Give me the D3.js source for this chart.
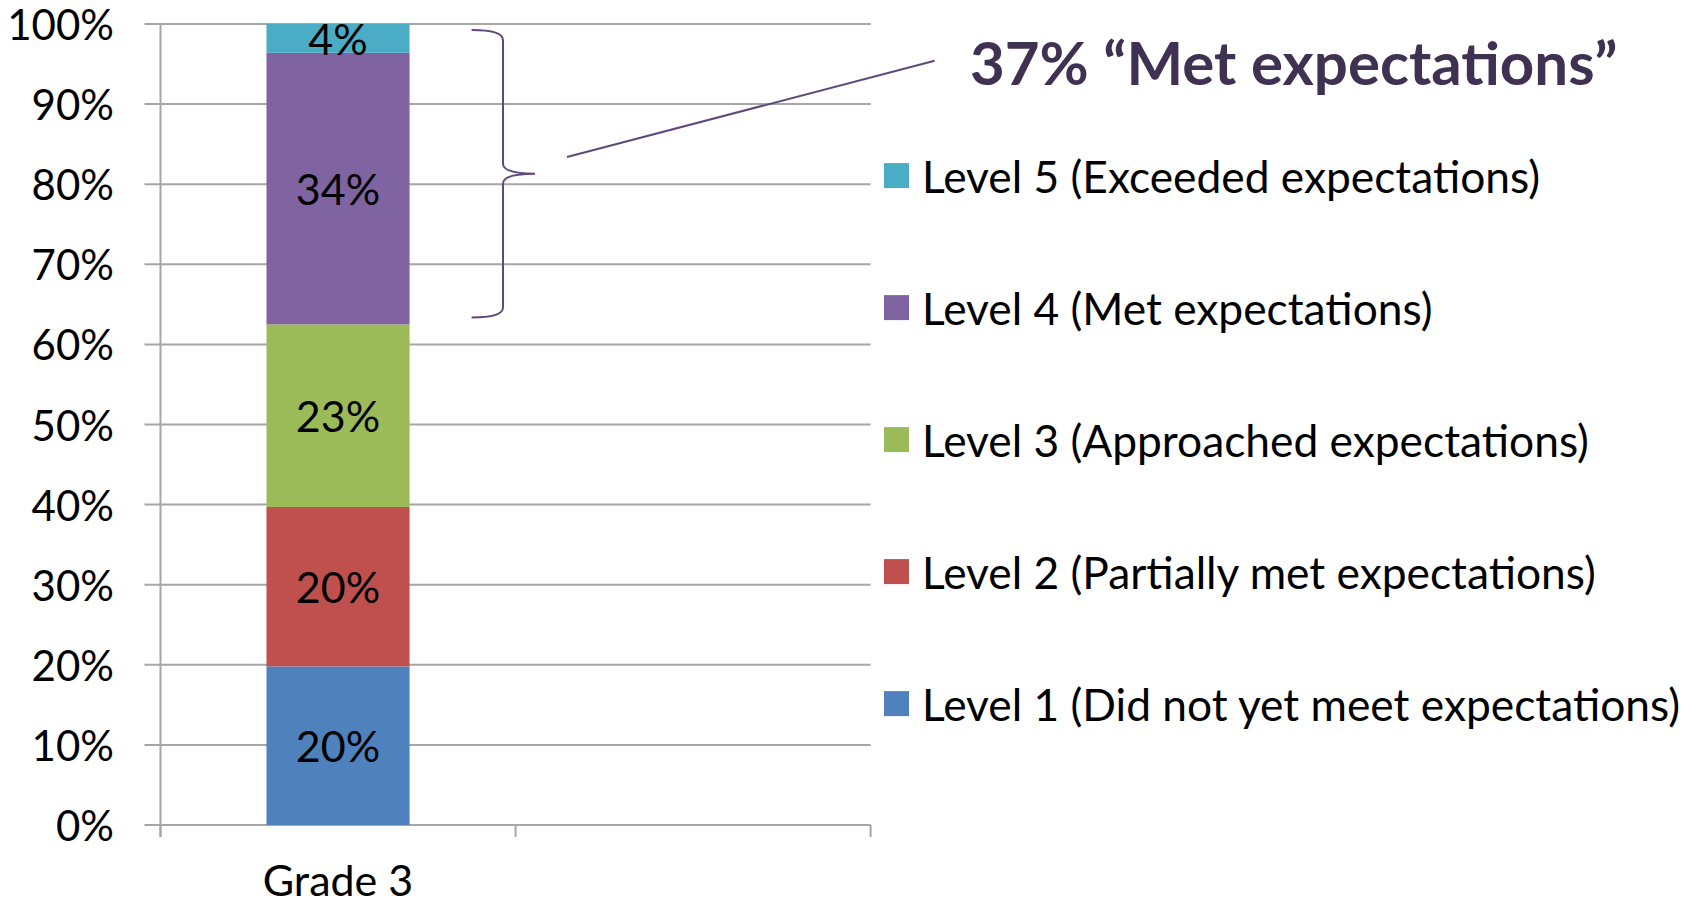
<!DOCTYPE html>
<html><head><meta charset="utf-8">
<script src="https://cdn.jsdelivr.net/npm/d3@7"></script>
<style>body{margin:0;background:#fff} svg{display:block}</style>
</head><body><svg id="c" width="1700" height="906"></svg>
<script>
// ---- data ----
const categories = ["Grade 3", ""];
const seriesNames = [
  "Level 1 (Did not yet meet expectations)",
  "Level 2 (Partially met expectations)",
  "Level 3 (Approached expectations)",
  "Level 4 (Met expectations)",
  "Level 5 (Exceeded expectations)"
];
const level1 = [19.8, 0];
const level2 = [19.9, 0];
const level3 = [22.8, 0];
const level4 = [33.9, 0];
const level5 = [3.6, 0];
const seriesColors = ["#4f81bd", "#c0504d", "#9bbb59", "#8064a2", "#4bacc6"];
const yTicks = [0, 10, 20, 30, 40, 50, 60, 70, 80, 90, 100];
const yTickLabels = ["0%", "10%", "20%", "30%", "40%", "50%", "60%", "70%", "80%", "90%", "100%"];
const calloutText = "37% \u201cMet expectations\u201d";
const bracedSeries = [3, 4]; // Level 4 + Level 5

// ---- layout ----
const FONT = "Lato, 'Open Sans', sans-serif";
const svg = d3.select("#c");
const plotL = 160.5, plotR = 870.6, plotT = 24, plotB = 825;
const y = d3.scaleLinear().domain([0, 100]).range([plotB, plotT]);
const x = d3.scaleBand().domain(categories).range([plotL, plotR]).padding(0);
const barW = x.bandwidth() * 0.403;
const gridColor = "#a6a6a6";

const allSeries = [level1, level2, level3, level4, level5];
const table = categories.map((c, i) => {
  const o = { cat: c };
  seriesNames.forEach((s, k) => o[s] = allSeries[k][i]);
  return o;
});
const stacked = d3.stack().keys(seriesNames)(table);

// gridlines
svg.append("g").selectAll("line").data(yTicks).join("line")
  .attr("x1", plotL - 16).attr("x2", plotR)
  .attr("y1", d => y(d)).attr("y2", d => y(d))
  .attr("stroke", gridColor).attr("stroke-width", 2);

// y axis line
svg.append("line").attr("x1", plotL).attr("x2", plotL)
  .attr("y1", y(100)).attr("y2", plotB + 12)
  .attr("stroke", gridColor).attr("stroke-width", 2);

// category ticks
const bounds = categories.map(c => x(c)).concat([x(categories[categories.length - 1]) + x.bandwidth()]);
svg.append("g").selectAll("line").data(bounds).join("line")
  .attr("x1", d => d).attr("x2", d => d)
  .attr("y1", plotB).attr("y2", plotB + 12)
  .attr("stroke", gridColor).attr("stroke-width", 2);

// y tick labels
svg.append("g").selectAll("text").data(yTicks).join("text")
  .attr("x", 114).attr("y", d => y(d))
  .attr("text-anchor", "end").attr("dominant-baseline", "central")
  .attr("font-family", FONT).attr("font-size", 42).attr("fill", "#000")
  .text((d, i) => yTickLabels[i]);

// bars
const bars = svg.append("g");
stacked.forEach((layer, k) => {
  layer.forEach(d => {
    if (d[1] - d[0] <= 0) return;
    const cx = x(d.data.cat) + x.bandwidth() / 2;
    bars.append("rect")
      .attr("x", cx - barW / 2).attr("width", barW)
      .attr("y", y(d[1])).attr("height", y(d[0]) - y(d[1]))
      .attr("fill", seriesColors[k]);
  });
});
stacked.forEach((layer, k) => {
  layer.forEach(d => {
    if (d[1] - d[0] <= 0) return;
    const cx = x(d.data.cat) + x.bandwidth() / 2;
    bars.append("text")
      .attr("x", cx).attr("y", y((d[0] + d[1]) / 2))
      .attr("text-anchor", "middle").attr("dominant-baseline", "central")
      .attr("font-family", FONT).attr("font-size", 43).attr("fill", "#000")
      .text(Math.round(d[1] - d[0]) + "%");
  });
});

// category label
svg.append("text").attr("x", x(categories[0]) + x.bandwidth() / 2).attr("y", 879)
  .attr("text-anchor", "middle").attr("dominant-baseline", "central")
  .attr("font-family", FONT).attr("font-size", 43).attr("fill", "#000")
  .text(categories[0]);

// legend (reverse order)
const legendY = d3.scalePoint().domain(seriesNames.slice().reverse()).range([175.6, 703.6]);
const lg = svg.append("g");
seriesNames.forEach((s, k) => {
  const yy = legendY(s);
  lg.append("rect").attr("x", 884).attr("y", yy - 12.5).attr("width", 25).attr("height", 25)
    .attr("fill", seriesColors[k]);
  lg.append("text").attr("x", 922).attr("y", yy)
    .attr("dominant-baseline", "central")
    .attr("font-family", FONT).attr("font-size", 44.3).attr("fill", "#000")
    .text(s);
});

// brace around Level 4 + Level 5
const braceTop = y(stacked[bracedSeries[1]][0][1]) + 6;
const braceBot = y(stacked[bracedSeries[0]][0][0]) - 7;
const braceMid = braceTop + (braceBot - braceTop) * 0.5;
const bx0 = 471.6, bx1 = 503, bx2 = 535;
const braceColor = "#5f497a";
const path = d3.path();
path.moveTo(bx0, braceTop);
path.quadraticCurveTo(bx1, braceTop, bx1, braceTop + 10);
path.lineTo(bx1, braceMid - 10);
path.quadraticCurveTo(bx1, braceMid, bx2, braceMid);
path.quadraticCurveTo(bx1, braceMid, bx1, braceMid + 10);
path.lineTo(bx1, braceBot - 10);
path.quadraticCurveTo(bx1, braceBot, bx0, braceBot);
svg.append("path").attr("d", path.toString()).attr("fill", "none")
  .attr("stroke", braceColor).attr("stroke-width", 2);

// callout line
svg.append("line").attr("x1", 567).attr("y1", 157).attr("x2", 934.6).attr("y2", 60.7)
  .attr("stroke", braceColor).attr("stroke-width", 2);

// callout text
svg.append("text").attr("x", 970).attr("y", 62)
  .attr("dominant-baseline", "central")
  .attr("font-family", FONT).attr("font-size", 60).attr("font-weight", "bold")
  .attr("fill", "#3f3151")
  .text(calloutText);
</script></body></html>
